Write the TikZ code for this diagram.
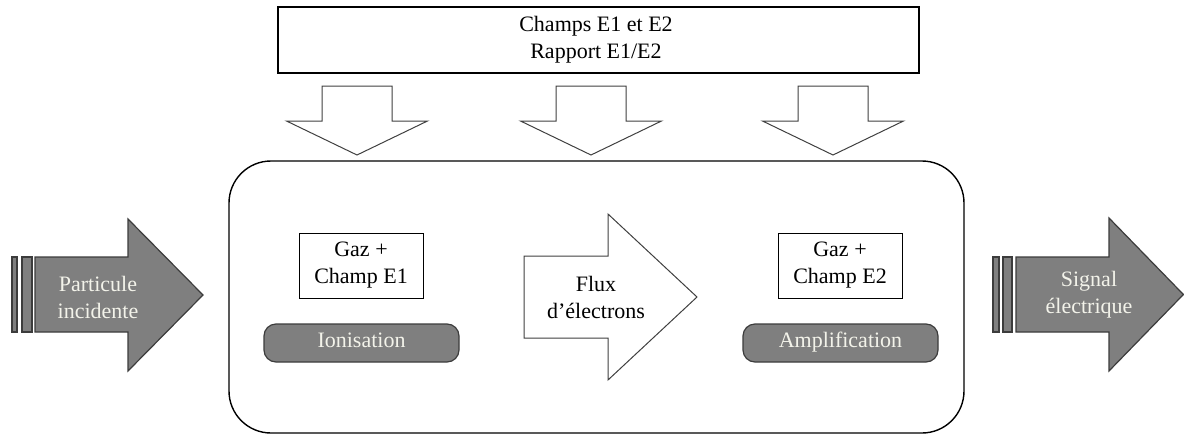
\documentclass[tikz,border=0pt]{standalone}
\usepackage{fontspec}
\setmainfont{Liberation Serif}
\definecolor{greyfill}{HTML}{7F7F7F}
\definecolor{greyline}{HTML}{3C3C3C}
\definecolor{lightc}{HTML}{F3F3EA}
\definecolor{arrline}{HTML}{404040}
\begin{document}
\begin{tikzpicture}[x=1pt,y=-1pt,
  txt/.style={font=\fontsize{22}{27}\selectfont, align=center, inner sep=0pt},
  lighttxt/.style={txt, text=lightc},
  blockarrow/.style={fill=greyfill, draw=greyline, line width=1.2pt, line join=miter},
  stripe/.style={fill=greyfill, draw=greyline, line width=1.2pt},
  openarrow/.style={fill=white, draw=arrline, line width=1pt, line join=miter},
  framebox/.style={draw=black, line width=1.4pt},
  gazbox/.style={draw=black, line width=1pt},
  pill/.style={fill=greyfill, draw=greyline, line width=1.2pt, rounded corners=12pt}
]
\useasboundingbox (0,0) rectangle (1184,434);

% top box
\draw[framebox] (278,7) rectangle (919,73);
\node[txt] (fields) at (596,40) {Champs E1 et E2\\Rapport E1/E2};

% down arrows
\foreach \c/\n in {357/da1, 591/da2, 833/da3}{
  \draw[openarrow] (\c-35,86) -- (\c+35,86) -- (\c+35,121) -- (\c+70.5,121)
    -- (\c,155) -- (\c-70.5,121) -- (\c-35,121) -- cycle;
  \coordinate (\n) at (\c,155);
}

% main rounded box
\draw[framebox, rounded corners=42pt] (229,161) rectangle (964,433);

% left striped arrow
\draw[stripe] (12,257) rectangle (17,332);
\draw[stripe] (22,257) rectangle (32,332);
\draw[blockarrow] (35,257) -- (128,257) -- (128,219) -- (203,295) -- (128,371)
  -- (128,332) -- (35,332) -- cycle;
\node[lighttxt] (part) at (98,297) {Particule\\incidente};

% right striped arrow
\draw[stripe] (993,257) rectangle (999,332);
\draw[stripe] (1003,257) rectangle (1012,332);
\draw[blockarrow] (1016,257) -- (1109,257) -- (1109,218) -- (1183.4,294.5) -- (1109,371)
  -- (1109,332) -- (1016,332) -- cycle;
\node[lighttxt] (sig) at (1089,295) {Signal\\électrique};

% flux arrow
\draw[openarrow] (524,256) -- (608,256) -- (608,214) -- (697,297) -- (608,380)
  -- (608,338) -- (524,338) -- cycle;
\node[txt] (flux) at (596,297) {Flux\\d’électrons};

% gaz boxes
\draw[gazbox] (299,233) rectangle (423,298);
\node[txt] (gaz1) at (361,265.5) {Gaz +\\Champ E1};
\draw[gazbox] (778,233) rectangle (902,298);
\node[txt] (gaz2) at (840,265.5) {Gaz +\\Champ E2};

% pills
\draw[pill] (264,324) rectangle (459,362);
\node[lighttxt, anchor=base] (ion) at (361.5,347) {Ionisation};
\draw[pill] (743,324) rectangle (938,362);
\node[lighttxt, anchor=base] (amp) at (840.5,347) {Amplification};
\end{tikzpicture}
\end{document}
